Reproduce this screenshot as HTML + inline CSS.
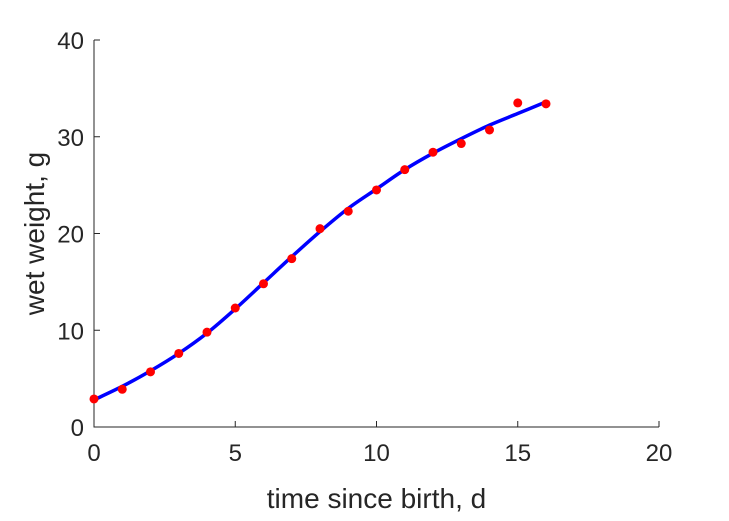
<!DOCTYPE html>
<html><head><meta charset="utf-8"><style>
html,body{margin:0;padding:0;background:#fff;}
svg{display:block;font-family:"Liberation Sans",sans-serif;}
</style></head><body>
<svg id="chart" width="729" height="521" viewBox="0 0 729 521"></svg>
<script>
const xTicks = [0, 5, 10, 15, 20];
const yTicks = [0, 10, 20, 30, 40];
const obsDays = [0,1,2,3,4,5,6,7,8,9,10,11,12,13,14,15,16];
const obsWeight = [2.9,3.9,5.7,7.6,9.8,12.3,14.8,17.4,20.5,22.3,24.5,26.6,28.4,29.3,30.7,33.5,33.4];
const fitDays = [0,1,2,3,4,5,6,7,8,9,10,11,12,13,14,15,16];
const fitWeight = [2.8,4.2,5.8,7.6,9.7,12.2,14.9,17.6,20.2,22.6,24.6,26.6,28.3,29.8,31.2,32.4,33.6];

const X0=94, X1=659, Y0=427, Y1=40;
const sx = v => X0 + (v-0)/(20-0)*(X1-X0);
const sy = v => Y0 - (v-0)/(40-0)*(Y0-Y1);
const NS="http://www.w3.org/2000/svg";
const svg=document.getElementById('chart');
function mk(tag, attrs){const e=document.createElementNS(NS,tag);for(const k in attrs)e.setAttribute(k,attrs[k]);svg.appendChild(e);return e;}

// axes
const ax=mk('path',{d:`M${X0},${Y1} L${X0},${Y0} L${X1},${Y0}`,fill:'none',stroke:'#262626','stroke-width':1});



xTicks.forEach(t=>{
  const x=sx(t);
  const tk=mk('line',{x1:x,y1:Y0,x2:x,y2:Y0-6,stroke:'#262626','stroke-width':1});
  
  
  const lb=mk('text',{x:x,y:Y0+34,'text-anchor':'middle','font-size':24,fill:'#262626'});
  lb.textContent=t;
  
  
});
yTicks.forEach(t=>{
  const y=sy(t);
  const tk=mk('line',{x1:X0,y1:y,x2:X0+6,y2:y,stroke:'#262626','stroke-width':1});
  
  
  const lb=mk('text',{x:X0-10,y:y+9,'text-anchor':'end','font-size':24,fill:'#262626'});
  lb.textContent=t;
  
  
});

const xt=mk('text',{x:(X0+X1)/2,y:508,'text-anchor':'middle','font-size':28,fill:'#262626'});
xt.textContent='time since birth, d';


const yt=mk('text',{x:0,y:0,'text-anchor':'middle','font-size':28,fill:'#262626',transform:`translate(44,${(Y0+Y1)/2}) rotate(-90)`});
yt.textContent='wet weight, g';



// fitted curve (Catmull-Rom smoothing)
const pts=fitDays.map((d,i)=>[sx(d),sy(fitWeight[i])]);
let d=`M${pts[0][0]},${pts[0][1]}`;
for(let i=0;i<pts.length-1;i++){
  const p0=pts[Math.max(0,i-1)],p1=pts[i],p2=pts[i+1],p3=pts[Math.min(pts.length-1,i+2)];
  const c1=[p1[0]+(p2[0]-p0[0])/6,p1[1]+(p2[1]-p0[1])/6];
  const c2=[p2[0]-(p3[0]-p1[0])/6,p2[1]-(p3[1]-p1[1])/6];
  d+=` C${c1[0]},${c1[1]} ${c2[0]},${c2[1]} ${p2[0]},${p2[1]}`;
}
const line=mk('path',{d:d,fill:'none',stroke:'#0000ff','stroke-width':3.5});



obsDays.forEach((dd,i)=>{
  const c=mk('circle',{cx:sx(dd),cy:sy(obsWeight[i]),r:4.5,fill:'#ff0000'});
  
  
});
</script>
</body></html>
